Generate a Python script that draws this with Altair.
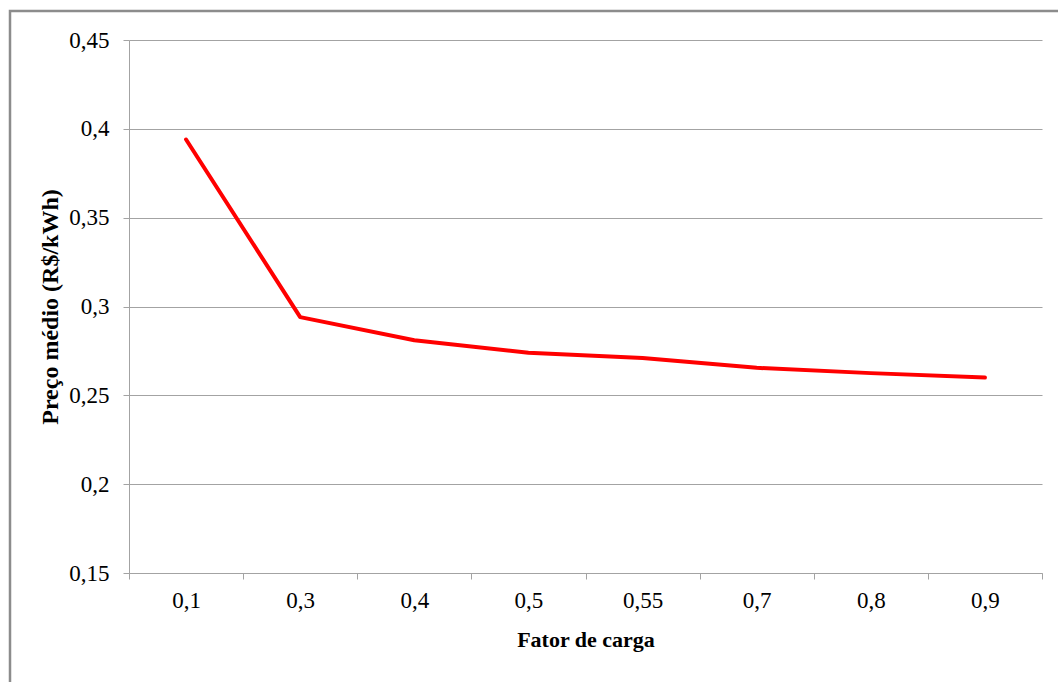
import altair as alt
import pandas as pd

# Load factor categories and the average price for each
fator_carga = ["0,1", "0,3", "0,4", "0,5", "0,55", "0,7", "0,8", "0,9"]
preco_medio = [0.394, 0.294, 0.281, 0.274, 0.271, 0.2655, 0.2625, 0.260]
y_ticks = [0.15, 0.2, 0.25, 0.3, 0.35, 0.4, 0.45]

df = pd.DataFrame({"fator": fator_carga, "preco": preco_medio})

FONT = "Liberation Serif"
GRID = "#a3a3a3"

line = alt.Chart(df).mark_line(color="#ff0000", strokeWidth=4, strokeCap="round", strokeJoin="round").encode(
    x=alt.X(
        "fator:N",
        sort=None,
        bandPosition=0.5,
        scale=alt.Scale(type="band", paddingInner=0, paddingOuter=0),
        axis=alt.Axis(
            title="Fator de carga",
            labelAngle=0,
            tickBand="extent",
            grid=False,
            domainColor=GRID,
            tickColor=GRID,
            tickSize=6,
            labelPadding=10,
            labelFont=FONT,
            labelFontSize=23,
            labelColor="#000000",
            titleFont=FONT,
            titleFontSize=22,
            titleFontWeight="bold",
            titleColor="#000000",
            titlePadding=17,
        ),
    ),
    y=alt.Y(
        "preco:Q",
        scale=alt.Scale(domain=[0.15, 0.45], nice=False, zero=False),
        axis=alt.Axis(
            title="Preço médio (R$/kWh)",
            values=y_ticks,
            labelExpr="replace(format(datum.value, '.2~f'), '.', ',')",
            grid=True,
            gridColor=GRID,
            gridWidth=1.2,
            domainColor=GRID,
            tickColor=GRID,
            tickSize=6,
            labelPadding=14,
            labelFont=FONT,
            labelFontSize=23,
            labelColor="#000000",
            titleFont=FONT,
            titleFontSize=24,
            titleFontWeight="bold",
            titleColor="#000000",
            titlePadding=6,
        ),
    ),
)

# Outer frame around the chart area
frame = alt.Chart(pd.DataFrame({"k": [0]})).mark_rect(
    fillOpacity=0, stroke="#8c8c8c", strokeWidth=2.5, clip=False
).encode(
    x=alt.value(-119),
    x2=alt.value(1100),
    y=alt.value(-29),
    y2=alt.value(700),
)

chart = alt.layer(frame, line).properties(
    width=913,
    height=533,
    autosize=alt.AutoSizeParams(type="none"),
    padding={"left": 129, "top": 40, "right": 16, "bottom": 109},
    background="#ffffff",
).configure_view(stroke=None)

chart.save("out.html", embed_options={"renderer": "svg", "actions": False})
